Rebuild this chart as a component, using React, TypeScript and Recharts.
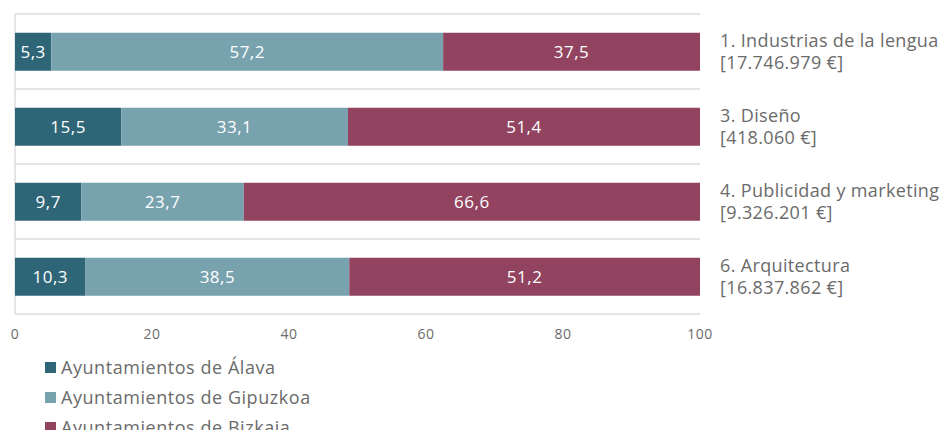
import React from 'react';
import { BarChart, Bar, XAxis, YAxis, CartesianGrid, LabelList, Legend } from 'recharts';

const categories = ['1. Industrias de la lengua', '3. Diseño', '4. Publicidad y marketing', '6. Arquitectura'];
const amounts = ['[17.746.979 €]', '[418.060 €]', '[9.326.201 €]', '[16.837.862 €]'];
const alava = [5.3, 15.5, 9.7, 10.3];
const gipuzkoa = [57.2, 33.1, 23.7, 38.5];
const bizkaia = [37.5, 51.4, 66.6, 51.2];
const xTicks = [0, 20, 40, 60, 80, 100];

const seriesNames = ['Ayuntamientos de Álava', 'Ayuntamientos de Gipuzkoa', 'Ayuntamientos de Bizkaia'];
const seriesColors = ['#2e6678', '#77a2ae', '#91435f'];

const data = categories.map((c, i) => ({
  name: c,
  amount: amounts[i],
  alava: alava[i],
  gipuzkoa: gipuzkoa[i],
  bizkaia: bizkaia[i],
}));

const FONT = '"Open Sans", "Noto Sans", sans-serif';
const TEXT = '#6b6b6b';
const fmt = (v: any) => String(v).replace('.', ',');

const RightTick = (props: any) => {
  const { x, y, payload } = props;
  const idx = categories.indexOf(payload.value);
  return (
    <g>
      <text x={x + 12} y={y - 11} dy="0.35em" fill={TEXT} fontSize={18} fontFamily={FONT} letterSpacing={0.35}>
        {payload.value}
      </text>
      <text x={x + 12} y={y + 11} dy="0.35em" fill={TEXT} fontSize={18} fontFamily={FONT} letterSpacing={0.35}>
        {amounts[idx]}
      </text>
    </g>
  );
};

const LegendContent = () => (
  <div style={{ height: 94, paddingTop: 8, boxSizing: 'border-box', overflow: 'visible' }}>
    {seriesNames.map((n, i) => (
      <div key={n} style={{ height: 30, display: 'flex', alignItems: 'center', fontFamily: FONT, fontSize: 18, color: TEXT, whiteSpace: 'nowrap', letterSpacing: 0.55 }}>
        <span style={{ display: 'inline-block', width: 11, height: 11, background: seriesColors[i], marginRight: 5 }} />
        {n}
      </div>
    ))}
  </div>
);

export default function App() {
  return (
    <div style={{ margin: -8, width: 949, height: 438, background: '#fff' }}>
      <BarChart
        width={949}
        height={438}
        data={data}
        layout="vertical"
        margin={{ top: 14, right: 0, bottom: 0, left: 15 }}
        barCategoryGap="25%"
      >
        <CartesianGrid
          stroke="#dcdce0"
          strokeWidth={1.5}
          horizontalCoordinatesGenerator={(p: any) => {
            const o = p.offset;
            return [0, 1, 2, 3, 4].map((i) => o.top + (i * o.height) / 4);
          }}
          verticalCoordinatesGenerator={(p: any) => [p.offset.left]}
        />
        <XAxis
          type="number"
          domain={[0, 100]}
          ticks={xTicks}
          axisLine={false}
          tickLine={false}
          tickMargin={9}
          height={30}
          tick={{ fill: TEXT, fontSize: 14, fontFamily: FONT, letterSpacing: 0.5 }}
          interval={0}
        />
        <YAxis
          type="category"
          dataKey="name"
          orientation="right"
          width={249}
          axisLine={false}
          tickLine={false}
          tick={<RightTick />}
          interval={0}
        />
        <Legend
          verticalAlign="bottom"
          align="left"
          wrapperStyle={{ left: 45, bottom: 0, width: 400 }}
          content={<LegendContent />}
        />
        <Bar dataKey="alava" name={seriesNames[0]} stackId="a" fill={seriesColors[0]} isAnimationActive={false}>
          <LabelList dataKey="alava" position="center" fill="#fff" fontSize={17} fontFamily={FONT} letterSpacing={0.5} formatter={fmt} />
        </Bar>
        <Bar dataKey="gipuzkoa" name={seriesNames[1]} stackId="a" fill={seriesColors[1]} isAnimationActive={false}>
          <LabelList dataKey="gipuzkoa" position="center" fill="#fff" fontSize={17} fontFamily={FONT} letterSpacing={0.5} formatter={fmt} />
        </Bar>
        <Bar dataKey="bizkaia" name={seriesNames[2]} stackId="a" fill={seriesColors[2]} isAnimationActive={false}>
          <LabelList dataKey="bizkaia" position="center" fill="#fff" fontSize={17} fontFamily={FONT} letterSpacing={0.5} formatter={fmt} />
        </Bar>
      </BarChart>
    </div>
  );
}
